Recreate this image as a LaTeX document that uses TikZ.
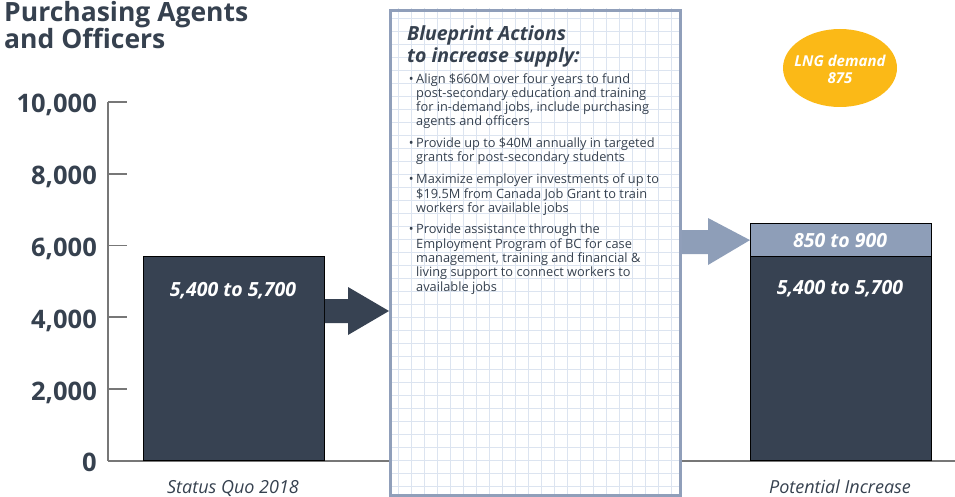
\documentclass[tikz,border=0pt]{standalone}
\usepackage{fontspec}
\setmainfont{Open Sans}
\definecolor{ink}{HTML}{36414F}
\definecolor{barc}{HTML}{374252}
\definecolor{lightc}{HTML}{8E9EB8}
\definecolor{boxc}{HTML}{909FBA}
\definecolor{gridc}{HTML}{DCE4F0}
\definecolor{axisc}{HTML}{777777}
\definecolor{lngc}{HTML}{FBB917}
\tikzset{
  titlef/.style={font={\fontsize{26.5}{30}\selectfont\bfseries}, text=ink, inner sep=0},
  ylab/.style={font={\fontsize{25.5}{28}\selectfont\bfseries}, text=ink, inner sep=0, anchor=base east},
  tick/.style={draw=axisc, line width=1.3pt},
  bartxt/.style={font={\fontsize{19.5}{22}\selectfont\bfseries\itshape}, text=white, inner sep=0, anchor=base},
  cat/.style={font={\fontsize{18}{20}\selectfont\itshape}, text=ink, inner sep=0, anchor=base},
  bhead/.style={font={\fontsize{19.5}{22}\selectfont\bfseries\itshape}, text=ink, inner sep=0, anchor=base west},
  bline/.style={font={\fontsize{12.8}{14}\selectfont}, text=ink, inner sep=0, anchor=base west},
  lngt/.style={font={\fontsize{15}{17}\selectfont\bfseries\itshape}, text=white, inner sep=0, anchor=base},
}
\begin{document}
\begin{tikzpicture}[x=1pt,y=-1pt]
\useasboundingbox (0,0) rectangle (955,497);

% title
\node[titlef, anchor=base west] (t1) at (4,22) {Purchasing Agents};
\node[titlef, anchor=base west] (t2) at (4,49) {and Officers};

% axis
\draw[tick] (108,102) -- (108,461);
\foreach \v/\yy in {10000/102, 8000/174, 6000/245.5, 4000/317, 2000/389}{
  \draw[tick] (108,\yy) -- (127,\yy);
}
\node[ylab] (y10) at (97,113) {10,000};
\node[ylab] (y8) at (97,185) {8,000};
\node[ylab] (y6) at (97,256.5) {6,000};
\node[ylab] (y4) at (97,328) {4,000};
\node[ylab] (y2) at (97,400) {2,000};
\node[ylab] (y0) at (97,471) {0};
\draw[tick] (108,461) -- (389,461);
\draw[tick] (679,461) -- (955,461);

% left bar
\node[draw=black, line width=0.8pt, fill=barc, inner sep=0, minimum width=181pt, minimum height=204pt, anchor=south west] (bar1) at (143,461) {};
\node[bartxt] (bar1t) at (233,296) {5,400 to 5,700};
\node[cat] (c1) at (233,493) {Status Quo 2018};

% middle box with grid
\begin{scope}
  \clip (389,9) rectangle (679,494);
  \fill[white] (389,9) rectangle (679,494);
  \foreach \x in {398,411,...,680} \draw[gridc, line width=0.9pt] (\x,0) -- (\x,497);
  \foreach \y in {18,31,...,497} \draw[gridc, line width=0.9pt] (380,\y) -- (690,\y);
\end{scope}
\node[draw=boxc, line width=3pt, inner sep=0, minimum width=290pt, minimum height=485pt, anchor=north west] (box) at (389,9) {};

\node[bhead] (h1) at (407,41) {Blueprint Actions};
\node[bhead] (h2) at (407,63) {to increase supply:};

\foreach \n/\yy in {b1/84, b2/148, b3/184, b4/233}{
  \node[bline, anchor=base east] (\n) at (414,\yy) {\textbullet};
}
\foreach \n/\yy/\t in {
  l1/84/{Align \$660M over four years to fund},
  l2/98/{post-secondary education and training},
  l3/112/{for in-demand jobs, include purchasing},
  l4/126/{agents and officers},
  l5/148/{Provide up to \$40M annually in targeted},
  l6/162/{grants for post-secondary students},
  l7/184/{Maximize employer investments of up to},
  l8/198/{\$19.5M from Canada Job Grant to train},
  l9/212/{workers for available jobs},
  l10/233/{Provide assistance through the},
  l11/248/{Employment Program of BC for case},
  l12/262/{management, training and financial \&},
  l13/276/{living support to connect workers to},
  l14/291/{available jobs}}{
  \node[bline] (\n) at (416,\yy) {\t};
}

% right bars
\node[draw=black, line width=0.8pt, fill=barc, inner sep=0, minimum width=181pt, minimum height=204pt, anchor=south west] (bar2) at (750,461) {};
\node[draw=black, line width=0.8pt, fill=lightc, inner sep=0, minimum width=181pt, minimum height=33pt, anchor=south west] (bar3) at (750,257) {};
\node[bartxt] (bar3t) at (840,247) {850 to 900};
\node[bartxt] (bar2t) at (840,294) {5,400 to 5,700};
\node[cat] (c2) at (840,493) {Potential Increase};

% arrows
\fill[barc] (bar1.east |- 0,299) -- (348,299) -- (348,287) -- (box.west |- 0,311)
  -- (348,335) -- (348,323) -- (bar1.east |- 0,323) -- cycle;
\fill[lightc] (box.east |- 0,230) -- (708,230) -- (708,218) -- (bar3.west)
  -- (708,265) -- (708,254) -- (box.east |- 0,254) -- cycle;

% LNG ellipse
\fill[lngc] (840,68) ellipse [x radius=57, y radius=39];
\node[lngt] (lng1) at (840,67) {LNG demand};
\node[lngt] (lng2) at (840,84) {875};
\end{tikzpicture}
\end{document}
